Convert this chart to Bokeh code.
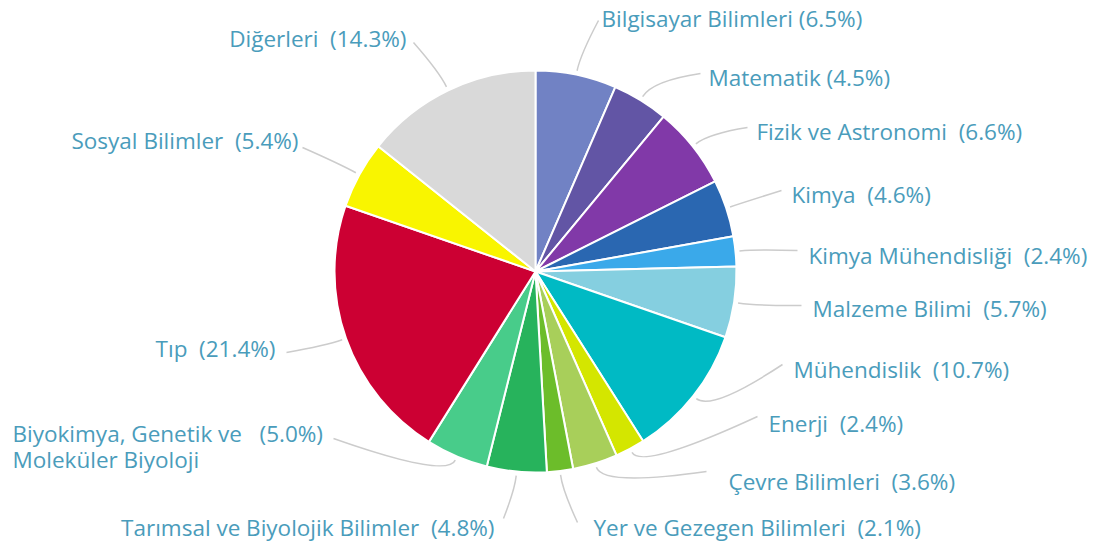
import math
from bokeh.plotting import figure
from bokeh.models import Range1d, ColumnDataSource
from bokeh.core.properties import value
from bokeh.embed import file_html
from bokeh.resources import INLINE

# ---- data ----
categories = ["Bilgisayar Bilimleri", "Matematik", "Fizik ve Astronomi", "Kimya",
              "Kimya Mühendisliği", "Malzeme Bilimi", "Mühendislik", "Enerji",
              "Çevre Bilimleri", "Yer ve Gezegen Bilimleri", "Tarımsal ve Biyolojik Bilimler",
              "Biyokimya, Genetik ve", "Tıp", "Sosyal Bilimler", "Diğerleri"]
shares = [6.5, 4.5, 6.6, 4.6, 2.4, 5.7, 10.7, 2.4, 3.6, 2.1, 4.8, 5.0, 21.4, 5.4, 14.3]
colors = ["#7182c4", "#6255a5", "#8139a8", "#2a67b1", "#3aa9ea", "#85cfe0", "#00bac4",
          "#d4e600", "#a8cf5a", "#6cbd2a", "#27b35c", "#48cc8a", "#cc0033", "#f9f500", "#d9d9d9"]
SP = " \u00a0"
label_texts = ["Bilgisayar Bilimleri (6.5%)", "Matematik (4.5%)", "Fizik ve Astronomi" + SP + "(6.6%)",
               "Kimya" + SP + "(4.6%)", "Kimya Mühendisliği" + SP + "(2.4%)",
               "Malzeme Bilimi" + SP + "(5.7%)", "Mühendislik" + SP + "(10.7%)",
               "Enerji" + SP + "(2.4%)", "Çevre Bilimleri" + SP + "(3.6%)",
               "Yer ve Gezegen Bilimleri" + SP + "(2.1%)",
               "Tarımsal ve Biyolojik Bilimler" + SP + "(4.8%)",
               "Biyokimya, Genetik ve \u00a0 (5.0%)", "Tıp" + SP + "(21.4%)",
               "Sosyal Bilimler" + SP + "(5.4%)", "Diğerleri" + SP + "(14.3%)"]
extra_line = "Moleküler Biyoloji"

# ---- layout (image pixel coordinates) ----
W, H = 1097, 550
PW, PH = 1089, 542
CX, CY, R = 535, 271, 201
# label anchor: (x, y, align)
label_pos = [(601, 18, "left"), (708, 77, "left"), (756, 131, "left"), (791, 194, "left"),
             (808, 255, "left"), (812, 308, "left"), (793, 369, "left"), (768, 423, "left"),
             (728, 481, "left"), (593, 527, "left"), (494, 527, "right"),
             (12, 433, "left"), (275, 348, "right"), (298, 140, "right"), (406, 38, "right")]
leader_end = [(598, 20), (700, 73), (747, 127), (781, 190), (797, 250), (801, 305),
              (782, 364), (757, 416), (706, 471), (577, 522), (503, 518), (333, 438),
              (286, 352), (302, 147), (413, 42)]

def Y(y):
    return H - y

p = figure(width=PW, height=PH, x_range=Range1d(0, PW), y_range=Range1d(Y(PH), Y(0)),
           output_backend="svg", toolbar_location=None, min_border=0,
           x_axis_location=None, y_axis_location=None)
p.grid.visible = False
p.outline_line_color = None
p.background_fill_color = "white"

total = sum(shares)
starts, ends, mids = [], [], []
c = 0.0
for s in shares:
    t0 = 2 * math.pi * c / total
    c += s
    t1 = 2 * math.pi * c / total
    starts.append(math.pi / 2 - t1)
    ends.append(math.pi / 2 - t0)
    mids.append((t0 + t1) / 2)

src = ColumnDataSource(dict(start=starts, end=ends, color=colors))
p.wedge(x=CX, y=Y(CY), radius=R, start_angle="start", end_angle="end",
        fill_color="color", line_color="white", line_width=2, source=src)

# leader lines
x0s, y0s, x1s, y1s, cxs, cys = [], [], [], [], [], []
for th, (ex, ey) in zip(mids, leader_end):
    ux, uy = math.sin(th), -math.cos(th)
    sx, sy = CX + (R + 4) * ux, CY + (R + 4) * uy
    d = math.hypot(ex - sx, ey - sy)
    k = R + 4 + min(0.3 * d, 20)
    qx, qy = CX + k * ux, CY + k * uy
    x0s.append(sx); y0s.append(Y(sy)); x1s.append(ex); y1s.append(Y(ey))
    cxs.append(qx); cys.append(Y(qy))
p.quadratic(x0=x0s, y0=y0s, x1=x1s, y1=y1s, cx=cxs, cy=cys, line_color="#cccccc", line_width=1.5)

FONT = value("Open Sans")
TC = "#4a9cbb"
FS = "22.5px"
for txt, (lx, ly, al) in zip(label_texts, label_pos):
    p.text(x=[lx], y=[Y(ly)], text=[txt], text_align=al, text_baseline="middle",
           text_font=FONT, text_font_size=FS, text_color=TC)
lx, ly, _ = label_pos[11]
p.text(x=[lx], y=[Y(ly + 26)], text=[extra_line], text_align="left", text_baseline="middle",
       text_font=FONT, text_font_size=FS, text_color=TC)

open("out.html", "w").write(file_html(p, INLINE))
